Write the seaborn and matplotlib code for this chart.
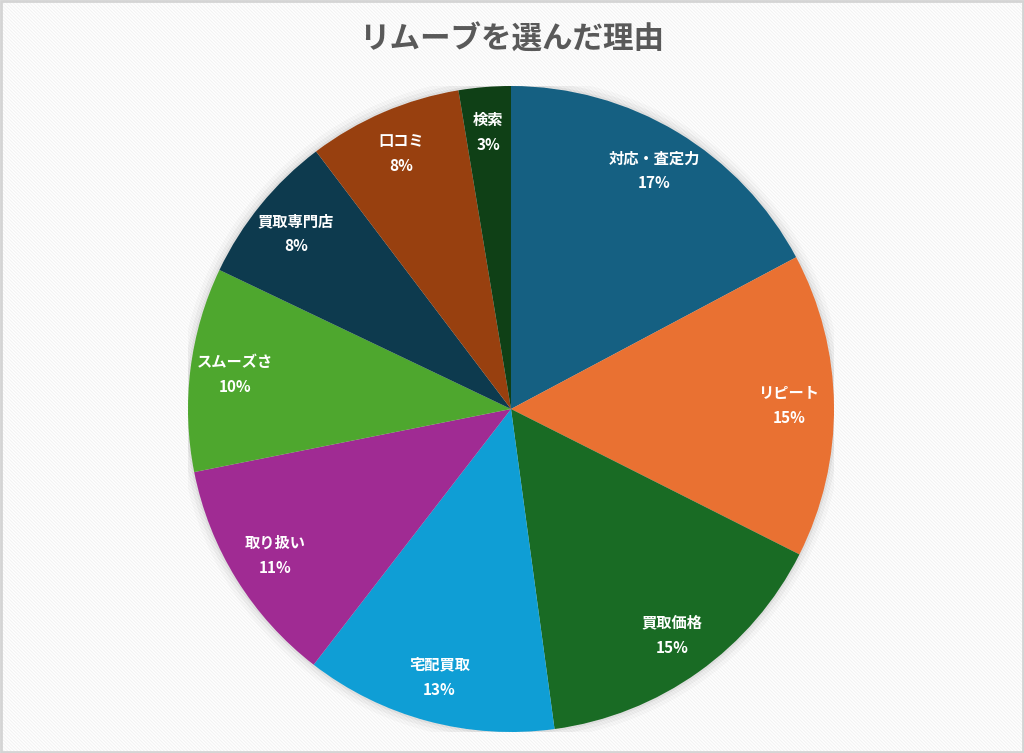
import matplotlib.pyplot as plt
import matplotlib.patches as mpatches
import seaborn as sns

# data (shares)
reasons = ["対応・査定力", "リピート", "買取価格", "宅配買取", "取り扱い",
           "スムーズさ", "買取専門店", "口コミ", "検索"]
shares = [17.2, 15.2, 15.4, 12.6, 11.4, 10.2, 7.6, 7.7, 2.6]
colors = ["#156082", "#E97132", "#196B24", "#0F9ED5", "#A02B93",
          "#4EA72E", "#0D3A4E", "#98400F", "#0F4016"]
title = "リムーブを選んだ理由"

sns.set_theme(style="white")
plt.rcParams["font.family"] = ["Noto Sans CJK JP", "DejaVu Sans"]
plt.rcParams["hatch.color"] = "#f2f2f2"
plt.rcParams["hatch.linewidth"] = 0.7

fig = plt.figure(figsize=(10.24, 7.53), dpi=100)
fig.patch.set_facecolor("white")

# striped background + frame
bg = mpatches.Rectangle((0, 0), 1, 1, transform=fig.transFigure, facecolor="white",
                        hatch="\\" * 10, edgecolor="#f2f2f2", linewidth=0, zorder=-10)
fig.patches.append(bg)
frame = mpatches.Rectangle((0.001, 0.001), 0.998, 0.998, transform=fig.transFigure,
                           fill=False, edgecolor="#d4d4d4", linewidth=2, zorder=10)
fig.patches.append(frame)

ax = fig.add_axes([188 / 1024, 21 / 753, 646 / 1024, 646 / 753])
ax.axis("off")

# soft shadow around the pie
for r, a in [(1.03, 0.025), (1.018, 0.035), (1.007, 0.05)]:
    ax.add_patch(mpatches.Circle((0, 0), r, color="black", alpha=a, lw=0, zorder=0))

total = sum(shares)
labels = [f"{name}\n{round(v / total * 100)}%" for name, v in zip(reasons, shares)]
wedges, texts = ax.pie(shares, labels=labels, colors=colors, startangle=90,
                       counterclock=False, labeldistance=0.86, radius=1.0,
                       wedgeprops={"linewidth": 0, "zorder": 1},
                       textprops={"color": "white", "fontsize": 11, "fontweight": "bold"})
for t in texts:
    t.set_horizontalalignment("center")
    t.set_verticalalignment("center")
    t.set_linespacing(1.7)

ax.set_xlim(-1.0, 1.0)
ax.set_ylim(-1.0, 1.0)
ax.set_aspect("equal")

fig.text(0.5, 1 - 40 / 753, title, ha="center", va="center", fontsize=22,
         fontweight="bold", color="#595959")

fig.savefig("out.png", dpi=100)
